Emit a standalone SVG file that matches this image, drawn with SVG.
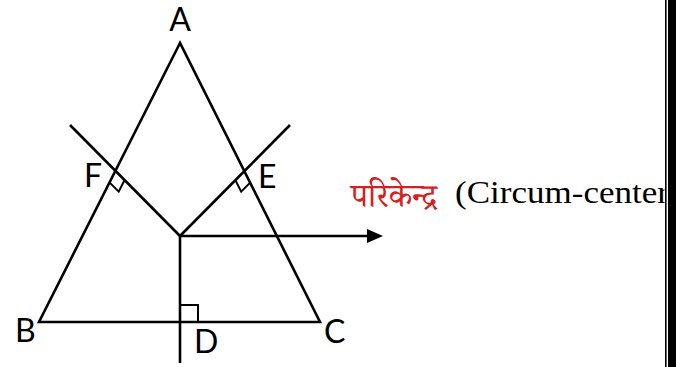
<svg xmlns="http://www.w3.org/2000/svg" width="686" height="367" viewBox="0 0 686 367">
<style>
.ln{stroke:#000;stroke-width:2.6;fill:none;stroke-linecap:butt;stroke-linejoin:miter}
.rt{stroke:#000;stroke-width:2;fill:none}
.lbl{font-family:Lato,"Open Sans","Liberation Sans",sans-serif;font-size:32px;fill:#000}
</style>
<defs>
<marker id="ah" markerWidth="16" markerHeight="14" refX="0" refY="7" orient="auto" markerUnits="userSpaceOnUse">
<polygon points="0,0 16,7 0,14" fill="#000"/>
</marker>
</defs>
<rect width="686" height="367" fill="#fff"/>
<g id="triangle">
<polygon class="ln" points="180,43 39,322 320,322"/>
</g>
<g id="connectors">
<line class="ln" x1="70" y1="125" x2="180" y2="236"/>
<line class="ln" x1="290" y1="125" x2="180" y2="236"/>
<line class="ln" x1="180" y1="236" x2="180" y2="363"/>
<line class="ln" x1="180" y1="236" x2="367" y2="236" marker-end="url(#ah)"/>
<polyline class="rt" points="124.6,180 118.7,191.6 109.5,182.4"/>
<polyline class="rt" points="235.3,180 241.2,191.6 250.4,182.4"/>
<polyline class="rt" points="180,305 198,305 198,322"/>
</g>
<g id="labels">
<text class="lbl" x="180" y="31" text-anchor="middle">A</text>
<text class="lbl" x="84" y="187">F</text>
<text class="lbl" x="258" y="188">E</text>
<text class="lbl" x="194" y="353">D</text>
<text class="lbl" x="15" y="342">B</text>
<text class="lbl" x="324" y="343">C</text>
</g>
<g id="caption">
<text x="351" y="207" font-family="'Noto Serif Devanagari','Noto Sans','Noto Sans Devanagari','Lohit Devanagari',serif" font-size="33" fill="#d42020" textLength="86" lengthAdjust="spacingAndGlyphs">परिकेन्द्र</text>
<text x="455" y="203" font-family="'Liberation Serif',serif" font-weight="normal" font-size="32" fill="#000" textLength="214" lengthAdjust="spacingAndGlyphs">(Circum-center</text>
</g>
<g id="border">
<rect x="664.5" y="0" width="22" height="367" fill="#fff"/>
<rect x="665" y="0" width="1.6" height="367" fill="#000"/>
<rect x="668" y="0" width="8" height="367" fill="#000"/>
</g>
</svg>
